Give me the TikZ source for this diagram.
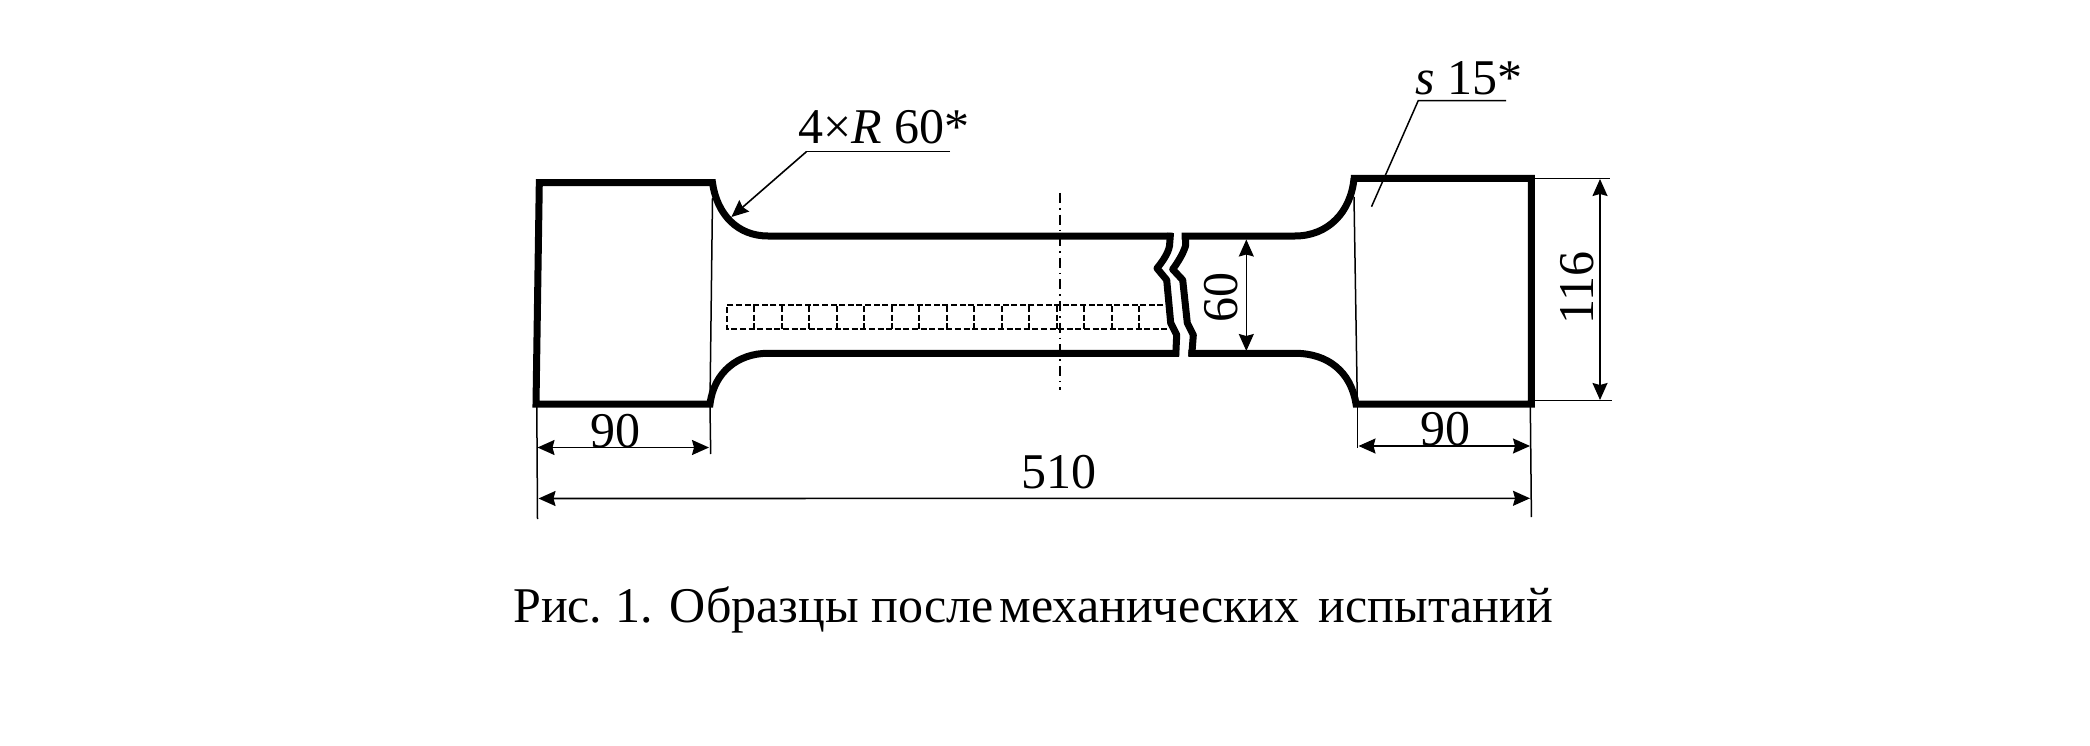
\documentclass[tikz,border=0pt]{standalone}
\usepackage{fontspec}
\setmainfont{Liberation Serif}
\usetikzlibrary{arrows.meta}
\tikzset{
  x=1pt,y=-1pt,
  outline/.style={line width=7pt,line join=miter,black},
  thinline/.style={line width=1.5pt,black},
  dimline/.style={line width=1.6pt,black,{Stealth[length=17pt,width=15pt,inset=2pt]}-{Stealth[length=17pt,width=15pt,inset=2pt]}},
  leaderarrow/.style={line width=1.6pt,black,-{Stealth[length=17pt,width=15pt,inset=2pt]}},
  gauge/.style={line width=2.2pt,dash pattern=on 6pt off 2.6pt,black},
  centreline/.style={line width=1.6pt,dash pattern=on 10pt off 5pt on 1.6pt off 5pt,black},
  lbl/.style={inner sep=0pt,font=\fontsize{50}{60}\selectfont,text=black},
}
\begin{document}
\begin{tikzpicture}
\useasboundingbox (0,0) rectangle (2090,746);
% gauge marks
\draw[gauge] (1163.3,305.3) -- (726.8,305.3) -- (726.8,328.7) -- (1168,328.7);
\foreach \i in {0,...,14} {\draw[gauge] ({754.3+27.5*\i},306) -- ({754.3+27.5*\i},329);}
% centre line
\coordinate (cla) at (1060,193); \coordinate (clb) at (1060,390);
\draw[centreline] (cla) -- (clb);
% specimen outline
\draw[outline] (1172.7,236) -- (767.9,236)
  .. controls (738,236) and (717,215) .. (712.5,182.7)
  -- (539.3,182.7) -- (536,404) -- (710,404)
  .. controls (714,372) and (738,353.3) .. (767.9,353.3) -- (1179,353.3);
\draw[outline,line join=round] (1170.5,233) -- (1169.5,246) .. controls (1168,254) and (1162,262) .. (1157,268.3)
  -- (1166.7,280) -- (1170.7,323) -- (1176.7,335) -- (1175.7,356);
\draw[outline] (1181.7,236) -- (1295,236)
  .. controls (1328,236) and (1351,212) .. (1354,178.3)
  -- (1350.8,178.3) -- (1531.4,178.3) -- (1531.4,404) -- (1356,404)
  .. controls (1351,372) and (1328,353.3) .. (1295,353.3) -- (1188.3,353.3);
\draw[outline,line join=round] (1185.5,233) -- (1185.5,246) .. controls (1183,254) and (1178,262) .. (1172.7,269.3)
  -- (1182.7,280) -- (1187.3,323) -- (1193.3,335) -- (1191.7,356);
% neck lines of the grips
\coordinate (nlt) at (712.5,198); \coordinate (nlb) at (710,402);
\coordinate (nrt) at (1354,197); \coordinate (nrb) at (1357.3,402);
\draw[thinline] (nlt) -- (nlb);
\draw[thinline] (nrt) -- (nrb);
% dimension 90 left
\coordinate (el1) at (536.8,407); \coordinate (el2) at (537.5,519);
\coordinate (el3) at (710,407); \coordinate (el4) at (710.7,454);
\draw[thinline] (el1) -- (el2);
\draw[thinline] (el3) -- (el4);
\coordinate (al1) at (537.5,447.5); \coordinate (al2) at (709,447.5);
\draw[dimline] (al1) -- (al2);
\node[lbl,anchor=base] (t90l) at (615,447) {90};
% dimension 90 right
\coordinate (er1) at (1357.3,405); \coordinate (er2) at (1357.3,448);
\coordinate (er3) at (1530.3,405); \coordinate (er4) at (1531.4,517);
\draw[thinline] (er1) -- (er2);
\draw[thinline] (er3) -- (er4);
\coordinate (ar1) at (1358.5,446); \coordinate (ar2) at (1530,446);
\draw[dimline] (ar1) -- (ar2);
\node[lbl,anchor=base] (t90r) at (1445.3,445.5) {90};
% dimension 510
\coordinate (ab1) at (538.5,498.5); \coordinate (ab2) at (1530,498.3);
\draw[dimline] (ab1) -- (ab2);
\node[lbl,anchor=base] (t510) at (1058.5,488) {510};
% dimension 60
\coordinate (a601) at (1246.3,239.5); \coordinate (a602) at (1246.3,351);
\draw[dimline] (a601) -- (a602);
\node[lbl,anchor=base,rotate=90] (t60) at (1237,297) {60};
% dimension 116
\coordinate (e1161) at (1534,178.3); \coordinate (e1162) at (1609.5,178.3);
\coordinate (e1163) at (1534,400.7); \coordinate (e1164) at (1611.8,400.7);
\draw[thinline] (e1161) -- (e1162);
\draw[thinline] (e1163) -- (e1164);
\coordinate (a1161) at (1600,179); \coordinate (a1162) at (1600,400);
\draw[dimline] (a1161) -- (a1162);
\node[lbl,anchor=base,rotate=90] (t116) at (1593,288) {116};
% leader R
\node[lbl,anchor=base west] (tr) at (798,144) {4×\textit{R} 60*};
\coordinate (lr1) at (950,151.7); \coordinate (lr2) at (806.4,151.7);
\coordinate (lr4) at (731.4,217);
\draw[thinline] (lr1) -- (lr2);
\draw[leaderarrow] (lr2) -- (lr4);
% leader s
\node[lbl,anchor=base west] (ts) at (1415.5,95) {\textit{s} 15*};
\coordinate (ls1) at (1506.2,100.7); \coordinate (ls2) at (1418.2,100.7); \coordinate (ls3) at (1371.5,206.7);
\draw[thinline] (ls1) -- (ls2) -- (ls3);
% caption
\node[lbl,anchor=base west] (cap) at (513,622) {Рис.\hspace{13.5pt}1.\hspace{16.5pt}Образцы\hspace{12.5pt}после\hspace{6pt}механических\hspace{19pt}испытаний};
\end{tikzpicture}
\end{document}
